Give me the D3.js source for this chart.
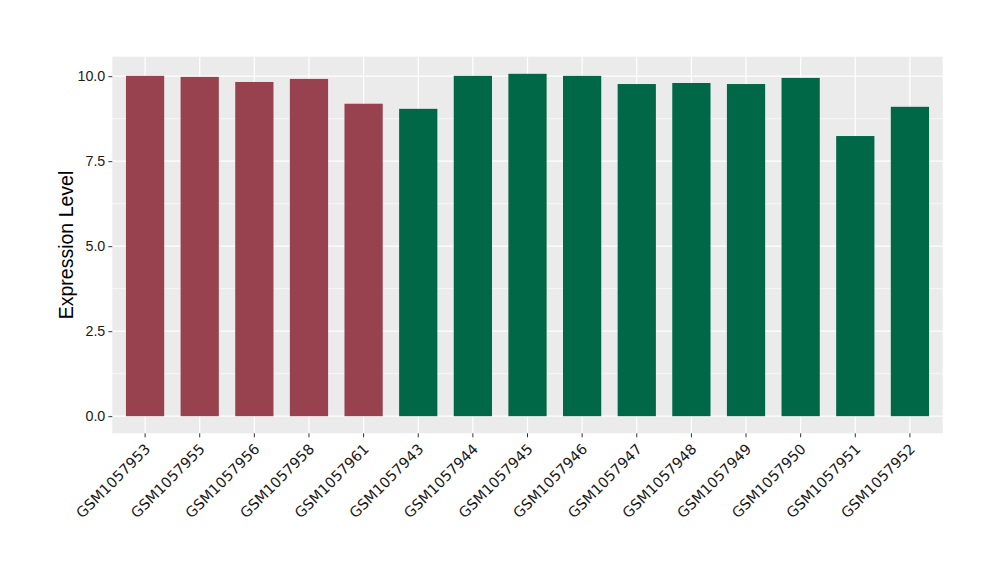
<!DOCTYPE html>
<html><head><meta charset="utf-8">
<script src="https://cdn.jsdelivr.net/npm/d3@7"></script>
<style>body{margin:0;background:#fff;} text{font-family:"Liberation Sans",Arial,sans-serif;}</style>
</head><body>
<svg id="chart" width="1000" height="580"></svg>
<script>
const categories = ["GSM1057953","GSM1057955","GSM1057956","GSM1057958","GSM1057961","GSM1057943","GSM1057944","GSM1057945","GSM1057946","GSM1057947","GSM1057948","GSM1057949","GSM1057950","GSM1057951","GSM1057952"];
const values = [10.01, 9.98, 9.83, 9.92, 9.19, 9.04, 10.01, 10.07, 10.01, 9.77, 9.80, 9.77, 9.95, 8.24, 9.10];
const groups = ["A","A","A","A","A","B","B","B","B","B","B","B","B","B","B"];
const groupColors = {A:"#99424F", B:"#006846"};
const yTicks = [0, 2.5, 5, 7.5, 10];
const yMinor = [1.25, 3.75, 6.25, 8.75];

const svg = d3.select("#chart");
const L = 112.3, R = 942.7, T = 56.7, B = 433.3;
const x = d3.scaleBand().domain(categories).range([L, R]).paddingInner(0.3).paddingOuter(0.25);
const y = d3.scaleLinear().domain([-0.5035, 10.5735]).range([B, T]);

svg.append("rect").attr("x", L).attr("y", T).attr("width", R - L).attr("height", B - T).attr("fill", "#EBEBEB");
const g = svg.append("g");
g.selectAll(".ymin").data(yMinor).join("line")
  .attr("x1", L).attr("x2", R).attr("y1", d => y(d)).attr("y2", d => y(d))
  .attr("stroke", "#fff").attr("stroke-width", 0.6);
g.selectAll(".ymaj").data(yTicks).join("line")
  .attr("x1", L).attr("x2", R).attr("y1", d => y(d)).attr("y2", d => y(d))
  .attr("stroke", "#fff").attr("stroke-width", 1.2);
g.selectAll(".xmaj").data(categories).join("line")
  .attr("x1", d => x(d) + x.bandwidth() / 2).attr("x2", d => x(d) + x.bandwidth() / 2)
  .attr("y1", T).attr("y2", B).attr("stroke", "#fff").attr("stroke-width", 1.2);

svg.selectAll(".bar").data(categories).join("rect")
  .attr("x", d => x(d)).attr("width", x.bandwidth())
  .attr("y", (d, i) => y(values[i])).attr("height", (d, i) => y(0) - y(values[i]))
  .attr("fill", (d, i) => groupColors[groups[i]]);

// y axis
const yAxis = svg.append("g").attr("transform", `translate(${L},0)`)
  .call(d3.axisLeft(y).tickValues(yTicks).tickFormat(d3.format(".1f")).tickSize(4).tickPadding(3));
yAxis.select(".domain").remove();
yAxis.selectAll("line").attr("stroke", "#333");
yAxis.selectAll("text").attr("font-size", 14.3).attr("fill", "#1a1a1a").style("font-family", "Liberation Sans, Arial, sans-serif");

// x axis
const xAxis = svg.append("g").attr("transform", `translate(0,${B})`)
  .call(d3.axisBottom(x).tickSize(4).tickPadding(3));
xAxis.select(".domain").remove();
xAxis.selectAll("line").attr("stroke", "#333");
xAxis.selectAll("text")
  .attr("font-size", 14.5).attr("fill", "#1a1a1a").style("font-family", "DejaVu Sans, sans-serif")
  .attr("text-anchor", "end").attr("y", 0).attr("dy", "0.75em")
  .attr("transform", "translate(-1.5,9) rotate(-45)");

svg.append("text").attr("transform", `translate(73,${(T + B) / 2}) rotate(-90)`)
  .attr("text-anchor", "middle").attr("font-size", 19.5).attr("fill", "#000")
  .text("Expression Level");
</script>
</body></html>
